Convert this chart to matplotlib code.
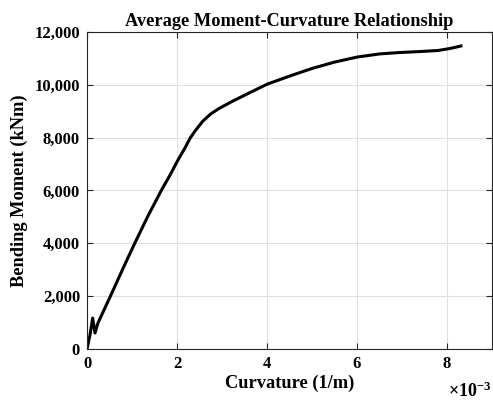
import matplotlib
matplotlib.use("Agg")
import matplotlib.pyplot as plt
from matplotlib.ticker import FuncFormatter

curvature_e3 = [0.0, 0.066, 0.126, 0.177, 0.243, 0.40, 0.52, 0.80, 1.06, 1.35, 1.65,
                1.85, 2.02, 2.18, 2.29, 2.40, 2.57, 2.75, 2.94, 3.20, 3.60, 4.01, 4.50,
                5.00, 5.50, 6.00, 6.50, 6.92, 7.40, 7.80, 8.05, 8.31]
moment = [0, 530, 1170, 605, 985, 1560, 2000, 3050, 4000, 5020, 6000, 6600, 7150,
          7620, 7980, 8250, 8620, 8900, 9110, 9350, 9690, 10030, 10330, 10620, 10860,
          11050, 11170, 11220, 11260, 11300, 11370, 11470]
curvature = [c * 1e-3 for c in curvature_e3]

title = "Average Moment-Curvature Relationship"
xlabel = "Curvature (1/m)"
ylabel = "Bending Moment (kNm)"

plt.rcParams['font.family'] = ['Liberation Serif', 'DejaVu Serif']
plt.rcParams['font.weight'] = 'bold'
plt.rcParams['mathtext.fontset'] = 'custom'
plt.rcParams['mathtext.rm'] = 'Liberation Serif:bold'
plt.rcParams['mathtext.it'] = 'Liberation Serif:bold'
plt.rcParams['mathtext.bf'] = 'Liberation Serif:bold'

fig = plt.figure(figsize=(4.93, 4.03), dpi=100)
ax = fig.add_axes([0.1765, 0.134, 0.8215, 0.7866])

ax.plot(curvature, moment, color='black', linewidth=2.2, solid_joinstyle='round')

ax.set_xlim(0, 9e-3)
ax.set_ylim(0, 12000)
ax.set_xticks([0, 2e-3, 4e-3, 6e-3, 8e-3])
ax.set_yticks(range(0, 12001, 2000))
ax.xaxis.set_major_formatter(FuncFormatter(lambda v, p: f"{v*1e3:g}"))
ax.yaxis.set_major_formatter(FuncFormatter(lambda v, p: f"{int(v):,}"))

ax.grid(True, color='#e0e0e0', linewidth=0.8)
ax.set_axisbelow(True)
ax.tick_params(direction='in', top=True, right=True, length=4, width=0.8,
               labelsize=12, colors='#262626', labelcolor='black', pad=5)
for lab in ax.get_xticklabels() + ax.get_yticklabels():
    lab.set_fontweight('bold')
for s in ax.spines.values():
    s.set_color('#262626')
    s.set_linewidth(0.8)

ax.set_title(title, fontsize=13.2, fontweight='bold', pad=4)
ax.set_xlabel(xlabel, fontsize=13.2, fontweight='bold', labelpad=2)
ax.set_ylabel(ylabel, fontsize=13.2, fontweight='bold', labelpad=5)

ax.text(0.998, -0.102, r"$\times10^{-3}$", transform=ax.transAxes, ha='right', va='top',
        fontsize=13)

fig.savefig("out.png", dpi=100)
